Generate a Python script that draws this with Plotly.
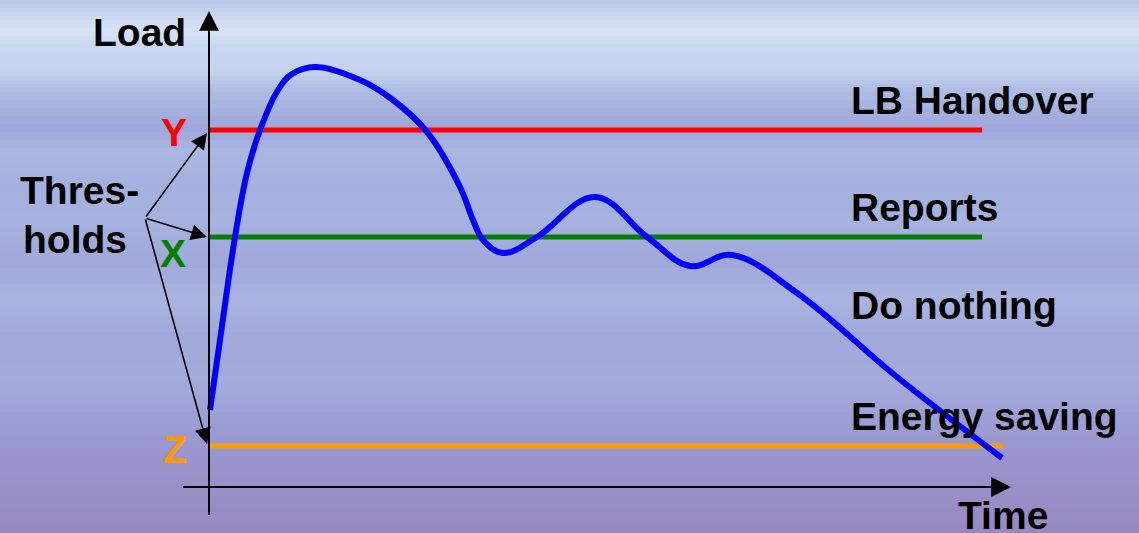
import plotly.graph_objects as go

# ---- data (time offset, load) ----
time_vals = [1, 11, 26, 38, 51, 69, 83, 106, 151, 184, 218, 251, 264, 274, 294,
             328, 386, 438, 481, 523, 588, 688, 793]
load_vals = [77, 147, 250, 314, 357, 397, 413, 420, 407, 387, 355, 300, 267, 247, 234,
             250, 290, 250, 221, 232, 194, 110, 29]

threshold_names = ["Y", "X", "Z"]
threshold_levels = [357, 250, 41]
threshold_ends = [773, 773, 794]
threshold_colors = ["#ff0000", "#008000", "#ff9900"]

region_labels = ["LB Handover", "Reports", "Do nothing", "Energy saving"]
region_levels = [387, 280, 182, 71]

# ---- background gradient stops (pixel row, colour) ----
bg_stops = [(0, (184, 198, 232)), (20, (208, 220, 242)), (32, (216, 226, 244)),
            (48, (200, 214, 240)), (72, (196, 210, 238)), (88, (176, 190, 230)),
            (105, (168, 180, 224)), (130, (158, 166, 218)), (150, (170, 184, 226)),
            (185, (164, 176, 222)), (220, (166, 178, 224)), (262, (160, 168, 218)),
            (300, (168, 180, 224)), (335, (160, 168, 218)), (380, (164, 172, 220)),
            (420, (156, 158, 212)), (460, (154, 148, 204)), (500, (154, 142, 198)),
            (533, (152, 136, 192))]

W, H = 1139, 533
X0, Y0 = 209, 487  # pixel position of origin


def bg_color(py):
    for (y1, c1), (y2, c2) in zip(bg_stops[:-1], bg_stops[1:]):
        if y1 <= py <= y2:
            f = (py - y1) / (y2 - y1) if y2 > y1 else 0
            c = [round(a + (b - a) * f) for a, b in zip(c1, c2)]
            return "rgb(%d,%d,%d)" % tuple(c)
    return "rgb(%d,%d,%d)" % bg_stops[-1][1]


fig = go.Figure()

shapes = []
band = 4
for py in range(0, H, band):
    shapes.append(dict(type="rect", xref="paper", yref="paper", layer="below",
                       x0=0, x1=1, y0=1 - (py + band) / H, y1=1 - py / H,
                       fillcolor=bg_color(py + band / 2), line=dict(width=0)))

# threshold lines
for name, lvl, end, col in zip(threshold_names, threshold_levels, threshold_ends, threshold_colors):
    fig.add_trace(go.Scatter(x=[0, end], y=[lvl, lvl], mode="lines",
                             line=dict(color=col, width=5), showlegend=False, hoverinfo="skip"))

# load curve
fig.add_trace(go.Scatter(x=time_vals, y=load_vals, mode="lines",
                         line=dict(color="#0000ff", width=6, shape="spline", smoothing=1.1),
                         showlegend=False, hoverinfo="skip"))

font_b = dict(family="Arial, Liberation Sans, sans-serif", size=39, color="black")
ann = []
# axes arrows
ann.append(dict(x=0, y=476, ax=0, ay=-28, xref="x", yref="y", axref="x", ayref="y",
                text="", showarrow=True, arrowhead=2, arrowsize=2.2, arrowwidth=1.8, arrowcolor="black"))
ann.append(dict(x=802, y=0, ax=-26, ay=0, xref="x", yref="y", axref="x", ayref="y",
                text="", showarrow=True, arrowhead=2, arrowsize=2.2, arrowwidth=1.8, arrowcolor="black"))
# threshold pointer arrows
for lvl in [354, 250, 43]:
    ann.append(dict(x=-2, y=lvl, ax=-64, ay=269, xref="x", yref="y", axref="x", ayref="y",
                    text="", showarrow=True, arrowhead=2, arrowsize=2.0, arrowwidth=1.6, arrowcolor="black"))

ann.append(dict(x=-70, y=455, xref="x", yref="y", text="<b>Load</b>", showarrow=False, font=font_b))
ann.append(dict(x=794, y=-28, xref="x", yref="y", text="<b>Time</b>", showarrow=False, font=font_b))
ann.append(dict(x=-130, y=297, xref="x", yref="y", text="<b>Thres-</b>", showarrow=False, font=font_b))
ann.append(dict(x=-134, y=248, xref="x", yref="y", text="<b>holds</b>", showarrow=False, font=font_b))

letter_pos = [(-35, 355), (-36, 234), (-34, 38)]
for name, col, (lx, ly) in zip(threshold_names, threshold_colors, letter_pos):
    ann.append(dict(x=lx, y=ly, xref="x", yref="y", text="<b>%s</b>" % name, showarrow=False,
                    font=dict(family=font_b["family"], size=39, color=col)))

for lab, lvl in zip(region_labels, region_levels):
    ann.append(dict(x=640, y=lvl, xref="x", yref="y", text="<b>%s</b>" % lab, showarrow=False,
                    font=font_b, xanchor="left"))

fig.update_layout(
    width=W, height=H, margin=dict(l=0, r=0, t=0, b=0),
    paper_bgcolor="rgb(168,180,224)", plot_bgcolor="rgba(0,0,0,0)",
    xaxis=dict(range=[-X0, W - X0], visible=False, fixedrange=True),
    yaxis=dict(range=[Y0 - H, Y0], visible=False, fixedrange=True),
    shapes=shapes + [
        dict(type="line", xref="x", yref="y", x0=0, x1=0, y0=-28, y1=466,
             line=dict(color="black", width=1.8)),
        dict(type="line", xref="x", yref="y", x0=-26, x1=790, y0=0, y1=0,
             line=dict(color="black", width=1.8)),
    ],
    annotations=ann,
)

fig.write_html("out.html", config={"displayModeBar": False},
               post_script="document.body.style.margin='0';document.body.style.padding='0';")
